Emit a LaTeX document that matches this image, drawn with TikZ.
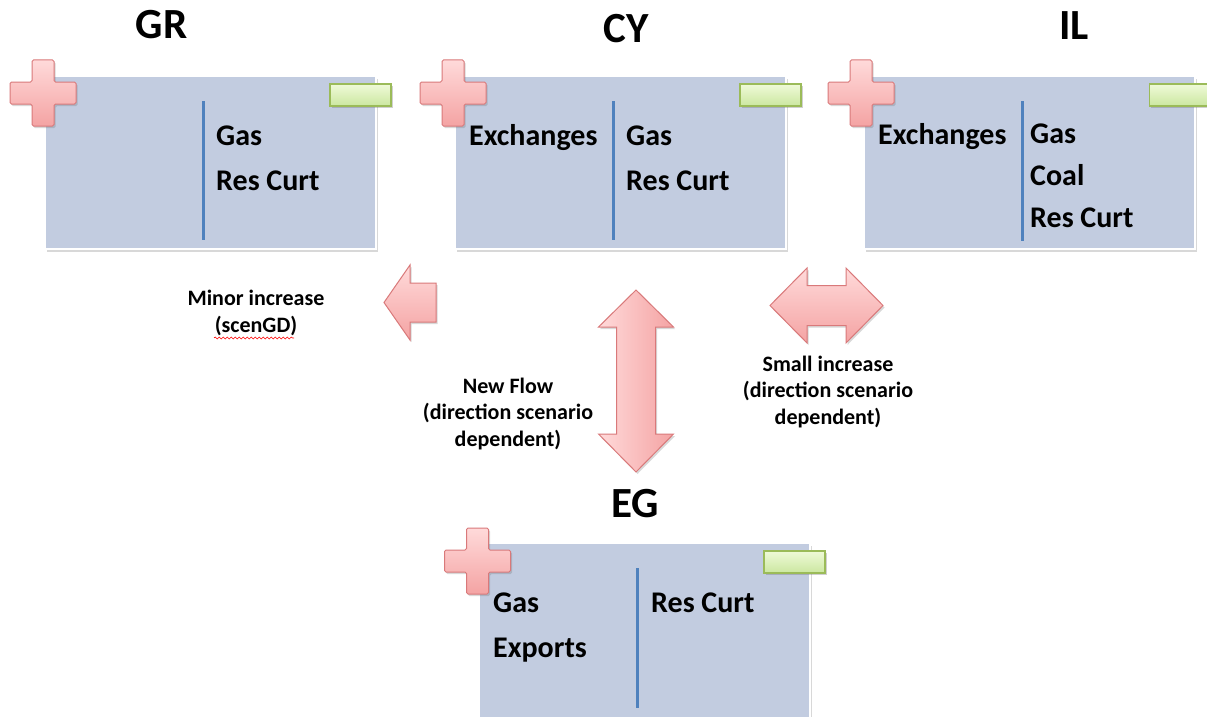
\documentclass[tikz,border=0pt]{standalone}
\usepackage{fontspec}
\setmainfont{Carlito}
\usetikzlibrary{shadows,decorations.pathmorphing}
\definecolor{boxfill}{HTML}{C2CCE0}
\definecolor{sepblue}{HTML}{4F81BD}
\definecolor{pinklight}{HTML}{FFDADA}
\definecolor{pinkdark}{HTML}{F4A3A3}
\definecolor{pinkborder}{HTML}{D9797A}
\definecolor{greenlight}{HTML}{EFFAD8}
\definecolor{greendark}{HTML}{CBE7A0}
\definecolor{greenborder}{HTML}{9BBB59}
\tikzset{
  box/.style={rectangle, draw=white, line width=1.5pt, fill=boxfill, minimum width=331pt, minimum height=173pt, inner sep=0pt,
    drop shadow={shadow xshift=2pt, shadow yshift=-3pt, opacity=0.3, fill=black!50}},
  sepline/.style={draw=sepblue, line width=3pt},
  boxtext/.style={font=\fontsize{30}{36}\selectfont\bfseries, anchor=base west, inner sep=0pt},
  title/.style={font=\fontsize{43}{50}\selectfont\bfseries, anchor=base, inner sep=0pt},
  label/.style={font=\fontsize{22}{26.5}\selectfont\bfseries, align=center, inner sep=0pt},
  minusbox/.style={rectangle, draw=greenborder, line width=1.2pt, top color=greenlight, bottom color=greendark,
    minimum width=61pt, minimum height=22pt, inner sep=0pt,
    drop shadow={shadow xshift=1.5pt, shadow yshift=-2pt, opacity=0.3, fill=black!60}},
  pinkshape/.style={draw=pinkborder, line width=1pt, top color=pinklight, bottom color=pinkdark,
    drop shadow={shadow xshift=1.5pt, shadow yshift=-2pt, opacity=0.25, fill=black!60}},
  pinkshapeh/.style={draw=pinkborder, line width=1pt, left color=pinklight, right color=pinkdark,
    drop shadow={shadow xshift=1.5pt, shadow yshift=-2pt, opacity=0.25, fill=black!60}},
  plussign/.pic={\path[pinkshape, rounded corners=1.5pt] (-33,-11) -- (-11,-11) -- (-11,-33) -- (11,-33) -- (11,-11) -- (33,-11) -- (33,11) -- (11,11) -- (11,33) -- (-11,33) -- (-11,11) -- (-33,11) -- cycle;}
}
\begin{document}
\begin{tikzpicture}[x=1pt,y=-1pt]
\useasboundingbox (0,0) rectangle (1207,717);
\fill[white] (0,0) rectangle (1207,717);

% titles
\node[title] (tGR) at (161.5,39) {GR};
\node[title] (tCY) at (626,43) {CY};
\node[title] (tIL) at (1074,40) {IL};
\node[title] (tEG) at (635,517) {EG};

% boxes
\node[box] (bGR) at (210.5,162.5) {};
\node[box] (bCY) at (620.5,162.5) {};
\node[box] (bIL) at (1029.5,162.5) {};
\node[box, minimum height=190pt] (bEG) at (644.5,638) {};

% separators
\coordinate (sGRa) at (203,101); \coordinate (sGRb) at (203,240);
\coordinate (sCYa) at (613,101); \coordinate (sCYb) at (613,240);
\coordinate (sILa) at (1022,101); \coordinate (sILb) at (1022,241);
\coordinate (sEGa) at (637,568); \coordinate (sEGb) at (637,708);
\draw[sepline] (sGRa) -- (sGRb);
\draw[sepline] (sCYa) -- (sCYb);
\draw[sepline] (sILa) -- (sILb);
\draw[sepline] (sEGa) -- (sEGb);

% plus signs
\pic (pGR) at (43,93) {plussign};
\pic (pCY) at (453,93) {plussign};
\pic (pIL) at (861,93) {plussign};
\pic (pEG) at (477.5,561) {plussign};

% minus signs
\node[minusbox] (mGR) at (360.5,95) {};
\node[minusbox] (mCY) at (770.5,95) {};
\node[minusbox] (mIL) at (1180,95) {};
\node[minusbox] (mEG) at (794.5,562) {};

% box texts
\node[boxtext] (gr1) at (216,145) {Gas};
\node[boxtext] (gr2) at (216,190) {Res Curt};
\node[boxtext] (cy0) at (469,145) {Exchanges};
\node[boxtext] (cy1) at (626,145) {Gas};
\node[boxtext] (cy2) at (626,190) {Res Curt};
\node[boxtext] (il0) at (878,144) {Exchanges};
\node[boxtext] (il1) at (1030,143) {Gas};
\node[boxtext] (il2) at (1030,185) {Coal};
\node[boxtext] (il3) at (1030,227) {Res Curt};
\node[boxtext] (eg1) at (493,612) {Gas};
\node[boxtext] (eg2) at (493,657) {Exports};
\node[boxtext] (eg3) at (651,612) {Res Curt};

% arrows
\path[pinkshape] (384,302.5) -- (410,265) -- (410,283) -- (436,283) -- (436,322) -- (410,322) -- (410,340) -- cycle;
\path[pinkshapeh] (636,290) -- (673.5,327) -- (655.5,327) -- (655.5,434) -- (673.5,434) -- (636,472) -- (598.5,434) -- (616.5,434) -- (616.5,327) -- (598.5,327) -- cycle;
\path[pinkshape] (770,305.5) -- (807,268) -- (807,285.5) -- (846,285.5) -- (846,268) -- (883,305.5) -- (846,343) -- (846,325.5) -- (807,325.5) -- (807,343) -- cycle;

% labels
\node[label] (lMinor) at (256,313) {Minor increase\\(scenGD)};
\draw[red, line width=0.6pt, decorate, decoration={snake, amplitude=1pt, segment length=4pt}] (214,338) -- (294,338);
\node[label] (lNew) at (508,414) {New Flow\\(direction scenario\\dependent)};
\node[label] (lSmall) at (828,392) {Small increase\\(direction scenario\\dependent)};
\end{tikzpicture}
\end{document}
